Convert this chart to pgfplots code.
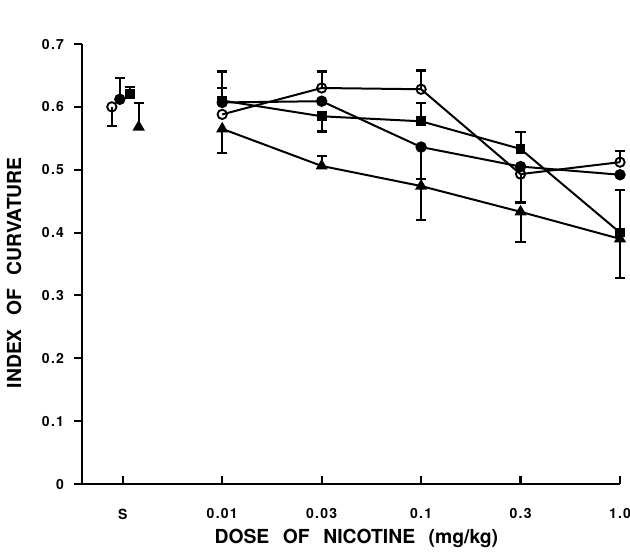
\documentclass[border=0pt]{standalone}
\usepackage{fontspec}
\setmainfont{TeX Gyre Heros}
\newfontfamily\tickfont[LetterSpace=9]{TeX Gyre Heros}
\usepackage{pgfplots}
\pgfplotsset{compat=1.18}
\begin{document}
\begin{tikzpicture}
\begin{axis}[
    scale only axis, width=403.5pt, height=330pt,
    xmin=-0.41, xmax=5.0, ymin=0, ymax=0.7,
    axis x line=bottom, axis y line=left,
    axis line style={-, line width=2.2pt},
    xtick={0,1,2,3,4,5},
    xticklabels={S,0.01,0.03,0.1,0.3,1.0},
    ytick={0,0.1,0.2,0.3,0.4,0.5,0.6,0.7},
    yticklabels={0,0.1,0.2,0.3,0.4,0.5,0.6,0.7},
    xtick align=inside, ytick align=outside,
    major tick length=6pt,
    tick style={line width=1.6pt, black},
    tick label style={font=\tickfont\fontsize{10.5}{13}\selectfont\bfseries},
    xticklabel style={yshift=-15pt},
    yticklabel style={xshift=-4pt},
    xlabel={DOSE\hspace{0.7em}OF\hspace{0.7em}NICOTINE\hspace{0.7em}(mg/kg)},
    ylabel={INDEX\hspace{0.7em}OF\hspace{0.7em}CURVATURE},
    every axis x label/.style={at={(rel axis cs:0.51,0)}, anchor=north, yshift=-30pt,
        font=\fontsize{14.5}{17}\selectfont\bfseries},
    every axis y label/.style={at={(rel axis cs:0,0.48)}, xshift=-42pt, rotate=90, anchor=south,
        font=\fontsize{14.5}{17}\selectfont\bfseries},
    clip=false,
    every axis plot/.append style={line width=1.5pt, black},
    mark size=3.5pt,
    error bars/error bar style={line width=1.5pt, black},
    error bars/error mark options={rotate=90, mark size=3.8pt, line width=1.8pt, black},
]
% ---- dose-response lines (0.01 ... 1.0)
% open circles
\addplot[mark=o, mark options={fill=white, solid, line width=1.4pt}] coordinates {
    (1,0.588) (2,0.630) (3,0.628) (4,0.493) (5,0.512)};
% filled circles
\addplot[mark=*] coordinates {
    (1,0.607) (2,0.609) (3,0.536) (4,0.505) (5,0.492)};
% filled squares
\addplot[mark=square*, mark size=2.9pt] coordinates {
    (1,0.610) (2,0.585) (3,0.577) (4,0.533) (5,0.400)};
% filled triangles
\addplot[mark=triangle*, mark size=3.8pt] coordinates {
    (1,0.565) (2,0.506) (3,0.474) (4,0.433) (5,0.390)};

% ---- saline points (not joined)
\addplot[only marks, mark=o, mark options={fill=white, line width=1.4pt}] coordinates {(-0.11,0.600)};
\addplot[only marks, mark=*] coordinates {(-0.03,0.612)};
\addplot[only marks, mark=square*, mark size=2.9pt] coordinates {(0.07,0.621)};
\addplot[only marks, mark=triangle*, mark size=3.8pt] coordinates {(0.16,0.568)};

% ---- error bars, upward
\addplot[draw=none, mark=none, forget plot,
    error bars/.cd, y dir=plus, y explicit] coordinates {
    (-0.03,0.612) +- (0,0.034)
    (0.07,0.621) +- (0,0.011)
    (0.16,0.568) +- (0,0.038)
    (1,0.607) +- (0,0.049)
    (1,0.610) +- (0,0.020)
    (2,0.630) +- (0,0.026)
    (2,0.506) +- (0,0.016)
    (3,0.628) +- (0,0.030)
    (3,0.577) +- (0,0.029)
    (4,0.533) +- (0,0.027)
    (5,0.512) +- (0,0.018)
    (5,0.400) +- (0,0.068)};
% ---- error bars, downward
\addplot[draw=none, mark=none, forget plot,
    error bars/.cd, y dir=minus, y explicit] coordinates {
    (-0.11,0.600) +- (0,0.030)
    (1,0.565) +- (0,0.038)
    (2,0.585) +- (0,0.024)
    (3,0.536) +- (0,0.051)
    (3,0.474) +- (0,0.054)
    (4,0.493) +- (0,0.045)
    (4,0.433) +- (0,0.048)
    (5,0.390) +- (0,0.062)};
\coordinate (O) at (rel axis cs:0,0);
\end{axis}
\pgfresetboundingbox
\path ([shift={(-61.5pt,-53.25pt)}]O) rectangle ([shift={(411pt,363pt)}]O);
\end{tikzpicture}
\end{document}
